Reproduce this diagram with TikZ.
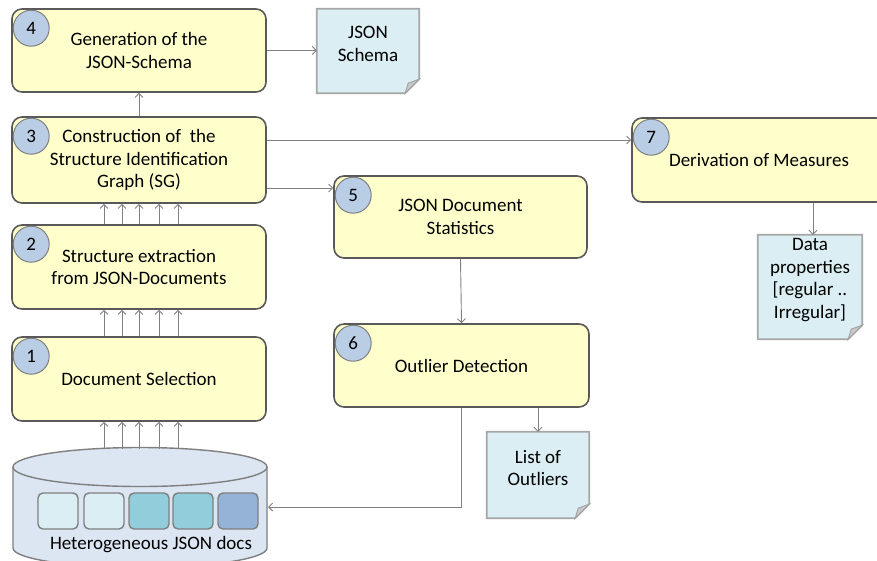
\documentclass[tikz,border=0pt]{standalone}
\usepackage{fontspec}
\setmainfont{Carlito}
\usetikzlibrary{arrows.meta}

\definecolor{boxfill}{HTML}{FFFFCC}
\definecolor{boxline}{HTML}{595959}
\definecolor{numfill}{HTML}{B9CDE5}
\definecolor{numline}{HTML}{7F7F7F}
\definecolor{docfill}{HTML}{DAEEF3}
\definecolor{docline}{HTML}{A6A6A6}
\definecolor{foldfill}{HTML}{C8C8C8}
\definecolor{arrowgray}{HTML}{808080}
\definecolor{dbfill}{HTML}{DCE6F2}
\definecolor{dbline}{HTML}{7F7F7F}
\definecolor{sqlight}{HTML}{DAEEF3}
\definecolor{sqmid}{HTML}{92CDDC}
\definecolor{sqdark}{HTML}{95B3D7}

\tikzset{
  stepbox/.style={draw=boxline, fill=boxfill, line width=1.6pt, rounded corners=10pt,
    minimum width=254pt, minimum height=84pt, align=center,
    font=\fontsize{19}{22.5}\selectfont},
  num/.style={circle, draw=numline, fill=numfill, line width=1pt, minimum size=36pt,
    inner sep=0pt, font=\fontsize{19}{22.5}\selectfont},
  docbox/.style={minimum width=102pt, minimum height=84pt, inner sep=0pt},
  doctext/.style={align=center, font=\fontsize{19}{22.7}\selectfont, inner sep=0pt},
  arr/.style={draw=arrowgray, line width=0.9pt, -{Straight Barb[length=4pt,width=8pt]}},
  dbsq/.style={draw=dbline, line width=1.4pt, rounded corners=5pt, minimum width=40pt,
    minimum height=36pt, inner sep=0pt}
}

% sheet with a folded corner round a named docbox
\newcommand{\dogear}[1]{%
  \filldraw[draw=docline, fill=docfill, line width=1.8pt] (#1.north west) -- (#1.north east)
    -- ([yshift=14pt]#1.south east) -- ([xshift=-14pt]#1.south east) -- (#1.south west) -- cycle;
  \filldraw[draw=docline, fill=foldfill, line width=1pt] ([yshift=14pt]#1.south east)
    -- ([xshift=-14pt]#1.south east) -- ([xshift=-11pt,yshift=10pt]#1.south east) -- cycle;
}

\begin{document}
\begin{tikzpicture}[x=1pt,y=-1pt]
\clip (0,0) rectangle (877,560);
% Drawing process steps
\node[stepbox, minimum height=83pt] (b4) at (139,50.5) {Generation of the\\JSON-Schema};
\node[stepbox, minimum height=86pt] (b3) at (139,160) {Construction of \ the\\Structure Identification\\Graph (SG)};
\node[stepbox] (b2) at (139,267) {Structure extraction\\from JSON-Documents};
\node[stepbox] (b1) at (139,379) {Document Selection};
\node[stepbox, minimum width=253pt, minimum height=82pt] (b5) at (460.5,217) {JSON Document\\Statistics};
\node[stepbox, minimum width=255pt, minimum height=83pt] (b6) at (461.5,365.5) {Outlier Detection};
\node[stepbox] (b7) at (759,160) {Derivation of Measures};
% Step numbers
\foreach \b/\n in {b1/1,b2/2,b3/3,b4/4,b5/5,b6/6,b7/7}
  \node[num] (n\n) at ([xshift=20pt,yshift=-20pt]\b.north west) {\n};
% Result sheets
\node[docbox] (schema) at (368,51) {};
\dogear{schema}
\node[doctext] (schematext) at ([yshift=7pt]schema.center) {JSON\\Schema};
\node[docbox, minimum height=86pt] (outl) at (538,475) {};
\dogear{outl}
\node[doctext] (outltext) at ([yshift=7pt]outl.center) {List of\\Outliers};
\node[docbox, minimum width=104pt, minimum height=104pt] (data) at (810,287) {};
\dogear{data}
\node[doctext] (datatext) at ([yshift=7pt]data.center) {Data\\properties\\{[}regular ..\\Irregular{]}};
% Document store
\filldraw[draw=dbline, fill=dbfill, line width=1.4pt] (13,467) -- (13,548)
  arc[start angle=180, end angle=0, x radius=127, y radius=19.5] -- (267,467) -- cycle;
\filldraw[draw=dbline, fill=dbfill, line width=1.4pt] (140,467) ellipse[x radius=127, y radius=19.5];
\foreach \x/\c [count=\i] in {58/sqlight,104/sqlight,149/sqmid,193/sqmid,238/sqdark}
  \node[dbsq, fill=\c] (sq\i) at (\x,511) {};
\node[font=\fontsize{19}{22.5}\selectfont, inner sep=0pt] (dbtext) at (151,545) {Heterogeneous JSON docs};
\coordinate (dbtop) at (139,449);
\coordinate (dbin) at (268,507);
% Connectors
\foreach \dx in {-35,-17,0,20,39} {
  \draw[arr] ([xshift=\dx pt]dbtop) -- ([xshift=\dx pt]b1.south);
  \draw[arr] ([xshift=\dx pt]b1.north) -- ([xshift=\dx pt]b2.south);
  \draw[arr] ([xshift=\dx pt]b2.north) -- ([xshift=\dx pt]b3.south);
}
\draw[arr] (b3.north) -- (b4.south);
\draw[arr] (b4.east) -- (b4.east -| schema.west);
\draw[arr] ([yshift=20pt]b3.east) -- ([yshift=20pt]b3.east -| b7.west);
\draw[arr] ([yshift=-28pt]b3.east) -- ([yshift=-28pt]b3.east -| b5.west);
\draw[arr] (b5.south) -- (b6.north);
\draw[arr] (outl.north |- b6.south) -- (outl.north);
\draw[arr] ([xshift=3pt]data.north |- b7.south) -- ([xshift=3pt]data.north);
\draw[arr] (b6.south) |- (dbin);
\end{tikzpicture}
\end{document}
